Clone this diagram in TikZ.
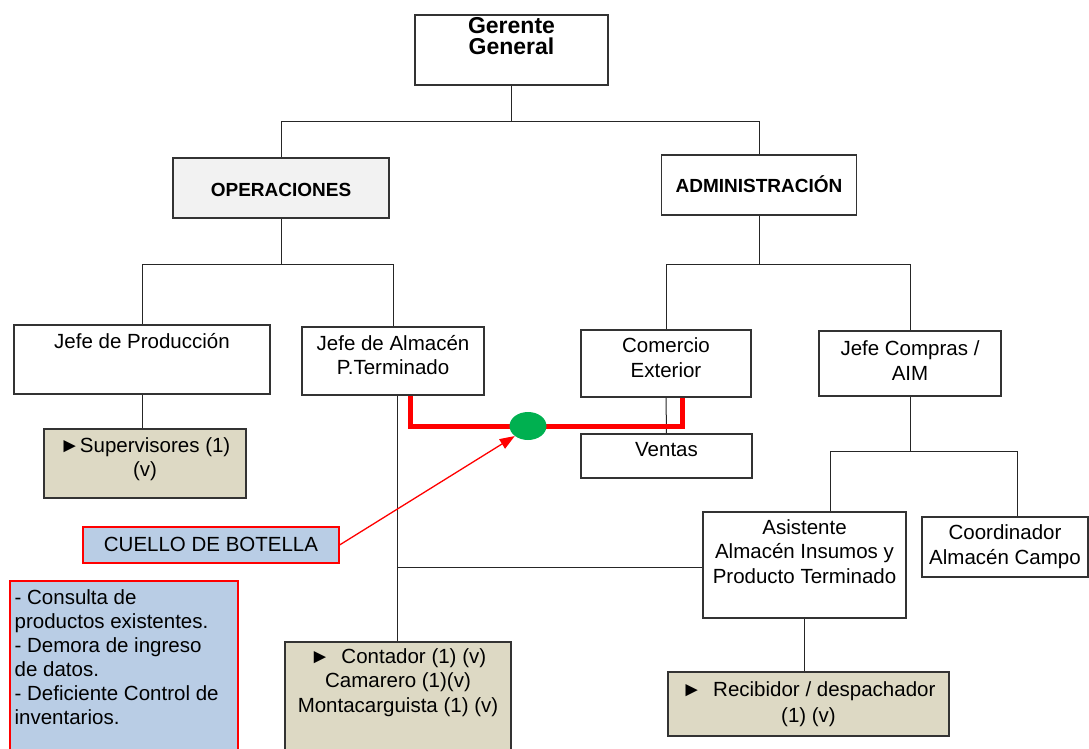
\documentclass[tikz,border=0pt]{standalone}
\usepackage{fontspec}
\setmainfont{Liberation Sans}
\usetikzlibrary{shapes.geometric,arrows.meta}
\definecolor{puesto}{HTML}{DDD9C4}
\definecolor{nota}{HTML}{B9CDE5}
\definecolor{verde}{HTML}{00B050}
\begin{document}
\begin{tikzpicture}[x=1pt,y=-1pt,>={Triangle[length=15pt,width=11pt]},
  font=\fontsize{20.5}{24.5}\selectfont,
  box/.style={draw=black!80,line width=1.1pt,rectangle,inner sep=0pt},
  ln/.style={black!85,line width=1pt},
  lbl/.style={anchor=base,yshift=-#1pt,align=center,inner sep=0pt},
  lbl/.default=24]
\useasboundingbox (0,0) rectangle (1089,749);
\node[box,minimum width=193pt,minimum height=70pt,
  label={[lbl=40,font=\fontsize{23}{21}\selectfont\bfseries]north:Gerente\\General}] (gg) at (511.5,50) {};
\node[box,fill=black!5,minimum width=216pt,minimum height=60pt,
  label={[lbl=39,font=\fontsize{19}{22}\selectfont\bfseries]north:OPERACIONES}] (ops) at (281,188) {};
\node[box,minimum width=195pt,minimum height=60pt,
  label={[lbl=38,font=\fontsize{19}{22}\selectfont\bfseries]north:ADMINISTRACIÓN}] (adm) at (759,185) {};
\node[box,minimum width=256pt,minimum height=69pt,label={[lbl]north:Jefe de Producción}] (jp) at (142,359.5) {};
\node[box,fill=puesto,minimum width=202pt,minimum height=69pt,
  label={[lbl=48.5]north:►Supervisores (1)\\(v)}] (sup) at (145,463.5) {};
\node[box,minimum width=182pt,minimum height=68pt,
  label={[lbl=48.5]north:Jefe de Almacén\\P.Terminado}] (ja) at (393,361) {};
\node[box,minimum width=170pt,minimum height=67pt,
  label={[lbl=48]north:Comercio\\Exterior}] (ce) at (666,363.5) {};
\node[box,minimum width=171pt,minimum height=44pt,label={[lbl=23]north:Ventas}] (ve) at (666.5,456) {};
\node[box,minimum width=182pt,minimum height=65pt,
  label={[lbl=50]north:Jefe Compras /\\AIM}] (jc) at (910,363.5) {};
\node[box,minimum width=203pt,minimum height=106pt,
  label={[lbl=72]north:Asistente\\Almacén Insumos y\\Producto Terminado}] (asis) at (804.5,565) {};
\node[box,minimum width=166pt,minimum height=60pt,
  label={[lbl=48]north:Coordinador\\Almacén Campo}] (co) at (1005,547) {};
\node[box,fill=puesto,minimum width=281pt,minimum height=64pt,
  label={[lbl=51,font=\fontsize{20.5}{26}\selectfont]north:►\ \ Recibidor / despachador\\(1) (v)}] (rec) at (808.5,704) {};
\node[box,fill=puesto,minimum width=226pt,minimum height=112pt,
  label={[lbl=71]north:►\ \ Contador (1) (v)\\Camarero (1)(v)\\Montacarguista (1) (v)}] (cont) at (398,698) {};
\node[box,draw=red,fill=nota,minimum width=256pt,minimum height=36pt,
  label={[lbl=25]north:CUELLO DE BOTELLA}] (cb) at (211,545) {};
\node[box,draw=red,fill=nota,minimum width=228pt,minimum height=170pt,
  label={[lbl=144,anchor=base west,align=left,xshift=5pt,font=\fontsize{20.5}{24}\selectfont]north west:- Consulta de\\productos existentes.\\- Demora de ingreso\\de datos.\\- Deficiente Control de\\inventarios.}] (iss) at (124,666) {};
\coordinate (b0) at (511.5,122);
\draw[ln] (gg.south) -- (b0) -| (ops.north);
\draw[ln] (b0) -| (adm.north);
\coordinate (b1) at (281,264);
\draw[ln] (ops.south) -- (b1) -| (jp.north);
\draw[ln] (b1) -| (ja.north);
\coordinate (b2) at (759,264);
\draw[ln] (adm.south) -- (b2) -| (ce.north);
\draw[ln] (b2) -| (jc.north);
\draw[ln] (jp.south) -- (jp.south |- sup.north);
\draw[ln] (ce.south) -- (ve.north);
\coordinate (b3) at (830,451);
\coordinate (b4) at (1017,451);
\draw[ln] (jc.south) -- (jc.south |- b3);
\draw[ln] (b3 |- asis.north) -- (b3) -- (b4) -- (b4 |- co.north);
\draw[ln] (asis.south) -- (asis.south |- rec.north);
\coordinate (b5) at (397,567);
\draw[ln] (b5 |- ja.south) -- (b5 |- cont.north);
\draw[ln] (b5) -- (b5 -| asis.west);
\coordinate (r1) at (410,426);
\coordinate (r2) at (682,426);
\draw[red,line width=5pt] (r1 |- ja.south) -- (r1) -- (r2) -- (r2 |- ce.south);
\node[ellipse,fill=verde,minimum width=37pt,minimum height=28pt,inner sep=0pt] (bn) at (528,426) {};
\draw[red,line width=1.3pt,->] (cb.east) -- (bn.south west);
\end{tikzpicture}
\end{document}
